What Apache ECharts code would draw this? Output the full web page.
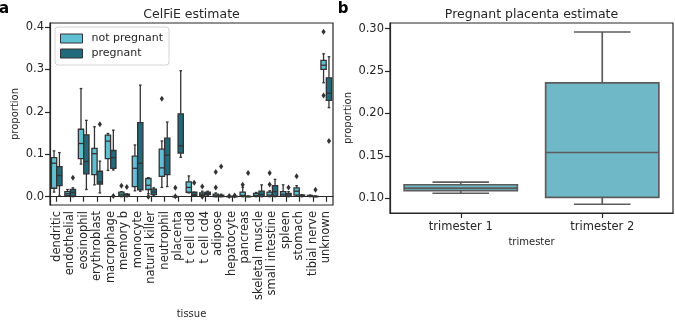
<!DOCTYPE html>
<html>
<head>
<meta charset="utf-8">
<script src="https://cdn.jsdelivr.net/npm/echarts@6/dist/echarts.min.js"></script>
<style>
  html, body { margin: 0; padding: 0; background: #fff; }
  #chart { width: 675px; height: 324px; }
</style>
</head>
<body>
<div id="chart"></div>
<script>
// ---- Panel a: CelFiE cell-type proportions, by pregnancy status ----
const tissues = [
  'dendritic', 'endothelial', 'eosinophil', 'erythroblast', 'macrophage',
  'memory b', 'monocyte', 'natural killer', 'neutrophil', 'placenta',
  't cell cd8', 't cell cd4', 'adipose', 'hepatocyte', 'pancreas',
  'skeletal muscle', 'small intestine', 'spleen', 'stomach', 'tibial nerve', 'unknown'
];

// five-number summaries: [whisker low, q1, median, q3, whisker high]
const notPregnantStats = [
  [0.011, 0.020, 0.079, 0.092, 0.108],
  [0.001, 0.003, 0.007, 0.012, 0.017],
  [0.077, 0.090, 0.1255, 0.159, 0.255],
  [0.028, 0.052, 0.1015, 0.114, 0.165],
  [0.062, 0.090, 0.131, 0.145, 0.149],
  [0.000, 0.002, 0.006, 0.011, 0.012],
  [0.014, 0.024, 0.067, 0.0955, 0.122],
  [0.007, 0.017, 0.027, 0.043, 0.045],
  [0.022, 0.048, 0.068, 0.112, 0.1315],
  [0.000, 0.000, 0.000, 0.0005, 0.0005],
  [0.009, 0.0105, 0.022, 0.035, 0.049],
  [0.001, 0.003, 0.006, 0.009, 0.013],
  [0.000, 0.0005, 0.002, 0.006, 0.009],
  [0.000, 0.000, 0.0003, 0.0006, 0.001],
  [0.000, 0.001, 0.003, 0.011, 0.022],
  [0.000, 0.001, 0.003, 0.008, 0.010],
  [0.000, 0.0015, 0.004, 0.011, 0.014],
  [0.001, 0.002, 0.006, 0.012, 0.028],
  [0.001, 0.004, 0.013, 0.021, 0.026],
  [0.000, 0.001, 0.002, 0.003, 0.004],
  [0.2686, 0.300, 0.310, 0.3215, 0.337]
];
const pregnantStats = [
  [0.002, 0.026, 0.050, 0.071, 0.104],
  [0.000, 0.002, 0.010, 0.017, 0.021],
  [0.017, 0.054, 0.083, 0.146, 0.180],
  [0.009, 0.030, 0.035, 0.060, 0.084],
  [0.063, 0.067, 0.092, 0.109, 0.157],
  [0.000, 0.001, 0.004, 0.006, 0.007],
  [0.013, 0.0165, 0.079, 0.1745, 0.263],
  [0.002, 0.005, 0.011, 0.018, 0.021],
  [0.024, 0.052, 0.098, 0.138, 0.176],
  [0.093, 0.103, 0.120, 0.1955, 0.297],
  [0.003, 0.003, 0.005, 0.0105, 0.0105],
  [0.003, 0.005, 0.008, 0.011, 0.013],
  [0.000, 0.0005, 0.002, 0.004, 0.006],
  [0.000, 0.000, 0.0005, 0.001, 0.002],
  [0.000, 0.000, 0.0005, 0.001, 0.002],
  [0.000, 0.001, 0.005, 0.013, 0.028],
  [0.000, 0.002, 0.012, 0.026, 0.041],
  [0.000, 0.001, 0.004, 0.008, 0.012],
  [0.000, 0.001, 0.002, 0.004, 0.005],
  [0.000, 0.000, 0.0005, 0.001, 0.002],
  [0.210, 0.2273, 0.244, 0.280, 0.330]
];

// fliers: [tissue index, proportion]
const notPregnantOutliers = [
  [5, 0.026], [7, 0.0], [8, 0.231], [9, 0.021], [9, 0.001],
  [11, 0.024], [11, 0.0], [12, 0.022], [12, 0.058], [13, 0.0015],
  [14, 0.028], [16, 0.029], [16, 0.056], [18, 0.048],
  [20, 0.389], [20, 0.2386]
];
const pregnantOutliers = [
  [1, 0.045], [3, 0.171], [4, 0.002], [5, 0.023], [10, 0.033],
  [12, 0.071], [13, 0.003], [14, 0.056], [17, 0.022], [19, 0.0165],
  [20, 0.1316]
];
const celfieTicks = [0, 0.1, 0.2, 0.3, 0.4];

// ---- Panel b: placenta proportion in pregnant samples, by trimester ----
const trimesters = ['trimester 1', 'trimester 2'];
const placentaStats = [
  [0.106, 0.109, 0.112, 0.116, 0.119],
  [0.093, 0.101, 0.154, 0.236, 0.296]
];
const placentaTicks = [0.10, 0.15, 0.20, 0.25, 0.30];

const FONT = 'DejaVu Sans';
const INK = '#262626';
const LIGHT = '#60bfd1';
const DARK = '#216a7b';
const PLACENTA_FILL = '#6eb8c7';
const EDGE_A = '#333333';
const EDGE_B = '#5c5c5c';

// Draws a seaborn-style box (box, median, whiskers, caps) for one category.
function boxRenderer(offset, widthFrac, fill, edge, lw) {
  return function (params, api) {
    const i = api.value(0);
    const band = api.size([1, 0])[0];
    const w = band * widthFrac;
    const cx = api.coord([i, 0])[0] + offset * band;
    const yv = k => api.coord([i, api.value(k)])[1];
    const yMin = yv(1), yQ1 = yv(2), yMed = yv(3), yQ3 = yv(4), yMax = yv(5);
    const cap = w / 4;
    const seg = (x1, y1, x2, y2) => ({
      type: 'line', shape: { x1, y1, x2, y2 },
      style: { stroke: edge, lineWidth: lw, fill: null }
    });
    return {
      type: 'group',
      children: [
        seg(cx, yQ1, cx, yMin),
        seg(cx, yQ3, cx, yMax),
        seg(cx - cap, yMin, cx + cap, yMin),
        seg(cx - cap, yMax, cx + cap, yMax),
        {
          type: 'rect',
          shape: { x: cx - w / 2, y: yQ3, width: w, height: Math.max(yQ1 - yQ3, 0.01) },
          style: { fill: fill, stroke: edge, lineWidth: lw }
        },
        seg(cx - w / 2, yMed, cx + w / 2, yMed)
      ]
    };
  };
}

// Diamond flier marker, shifted to its hue slot within the category band.
function flierRenderer(offset, color) {
  return function (params, api) {
    const i = api.value(0);
    const band = api.size([1, 0])[0];
    const p = api.coord([i, api.value(1)]);
    const cx = p[0] + offset * band, cy = p[1];
    return {
      type: 'polygon',
      shape: { points: [[cx, cy - 3], [cx + 2.1, cy], [cx, cy + 3], [cx - 2.1, cy]] },
      style: { fill: color, stroke: null }
    };
  };
}

const statRows = stats => stats.map((s, i) => [i].concat(s));

const chart = echarts.init(document.getElementById('chart'), null, { renderer: 'canvas' });

const axisText = { fontFamily: FONT, fontSize: 11.5, color: INK };
const nameText = { fontFamily: FONT, fontSize: 10, color: INK };

chart.setOption({
  animation: false,
  backgroundColor: '#fff',
  textStyle: { fontFamily: FONT },
  grid: [
    { left: 50, top: 23, width: 283, height: 189, show: true, borderColor: INK, borderWidth: 1.2, backgroundColor: 'transparent' },
    { left: 390, top: 23, width: 283, height: 190, show: true, borderColor: INK, borderWidth: 1.2, backgroundColor: 'transparent' }
  ],
  legend: {
    left: 55, top: 27, orient: 'vertical',
    itemWidth: 22, itemHeight: 9, itemGap: 4,
    padding: [6, 6, 6, 5],
    borderColor: '#d4d4d4', borderWidth: 1, borderRadius: 3,
    backgroundColor: 'rgba(255,255,255,0.85)',
    textStyle: { fontFamily: FONT, fontSize: 11, color: INK, padding: [0, 0, 0, 4] },
    data: [
      { name: 'not pregnant', icon: 'rect', itemStyle: { color: LIGHT, borderColor: EDGE_A, borderWidth: 1 } },
      { name: 'pregnant', icon: 'rect', itemStyle: { color: DARK, borderColor: EDGE_A, borderWidth: 1 } }
    ]
  },
  xAxis: [
    {
      gridIndex: 0, type: 'category', data: tissues,
      name: 'tissue', nameLocation: 'middle', nameGap: 104, nameTextStyle: nameText,
      axisLine: { show: true, lineStyle: { color: INK, width: 1.2 } },
      axisTick: { show: true, alignWithLabel: true, interval: 0, length: 5, lineStyle: { color: INK, width: 1.2 } },
      axisLabel: Object.assign({ rotate: 90, interval: 0, margin: 6 }, axisText),
      splitLine: { show: false }
    },
    {
      gridIndex: 1, type: 'category', data: trimesters,
      name: 'trimester', nameLocation: 'middle', nameGap: 22, nameTextStyle: nameText,
      axisLine: { show: true, lineStyle: { color: INK, width: 1.2 } },
      axisTick: { show: true, alignWithLabel: true, length: 5, lineStyle: { color: INK, width: 1.2 } },
      axisLabel: Object.assign({ margin: 8 }, axisText),
      splitLine: { show: false }
    }
  ],
  yAxis: [
    {
      gridIndex: 0, type: 'value', min: -0.0195, max: 0.4095,
      name: 'proportion', nameLocation: 'middle', nameRotate: 90, nameGap: 30, nameTextStyle: nameText,
      axisLine: { show: true, lineStyle: { color: INK, width: 1.2 } },
      axisTick: { show: true, length: 5, customValues: celfieTicks, lineStyle: { color: INK, width: 1.2 } },
      axisLabel: Object.assign({ margin: 6, customValues: celfieTicks, formatter: v => v.toFixed(1) }, axisText),
      splitLine: { show: false }
    },
    {
      gridIndex: 1, type: 'value', min: 0.0827, max: 0.3066,
      name: 'proportion', nameLocation: 'middle', nameRotate: 90, nameGap: 37, nameTextStyle: nameText,
      axisLine: { show: true, lineStyle: { color: INK, width: 1.2 } },
      axisTick: { show: true, length: 5, customValues: placentaTicks, lineStyle: { color: INK, width: 1.2 } },
      axisLabel: Object.assign({ margin: 6, customValues: placentaTicks, formatter: v => v.toFixed(2) }, axisText),
      splitLine: { show: false }
    }
  ],
  graphic: [
    { type: 'text', x: 191.5, y: 15, style: { text: 'CelFiE estimate', fontFamily: FONT, fontSize: 12.5, fill: INK, align: 'center', verticalAlign: 'middle', textAlign: 'center', textVerticalAlign: 'middle' } },
    { type: 'text', x: 531.5, y: 15, style: { text: 'Pregnant placenta estimate', fontFamily: FONT, fontSize: 12.5, fill: INK, align: 'center', verticalAlign: 'middle', textAlign: 'center', textVerticalAlign: 'middle' } },
    { type: 'text', x: 4, y: 9, style: { text: 'a', fontFamily: FONT, fontSize: 15, fontWeight: 'bold', fill: '#000', align: 'center', verticalAlign: 'middle', textAlign: 'center', textVerticalAlign: 'middle' } },
    { type: 'text', x: 343, y: 9, style: { text: 'b', fontFamily: FONT, fontSize: 15, fontWeight: 'bold', fill: '#000', align: 'center', verticalAlign: 'middle', textAlign: 'center', textVerticalAlign: 'middle' } }
  ],
  series: [
    {
      name: 'not pregnant', type: 'custom', xAxisIndex: 0, yAxisIndex: 0,
      itemStyle: { color: LIGHT },
      renderItem: boxRenderer(-0.2, 0.392, LIGHT, EDGE_A, 1.3),
      encode: { x: 0, y: [1, 2, 3, 4, 5] },
      data: statRows(notPregnantStats)
    },
    {
      name: 'pregnant', type: 'custom', xAxisIndex: 0, yAxisIndex: 0,
      itemStyle: { color: DARK },
      renderItem: boxRenderer(0.2, 0.392, DARK, EDGE_A, 1.3),
      encode: { x: 0, y: [1, 2, 3, 4, 5] },
      data: statRows(pregnantStats)
    },
    {
      name: 'not pregnant fliers', type: 'custom', xAxisIndex: 0, yAxisIndex: 0,
      renderItem: flierRenderer(-0.2, EDGE_A),
      encode: { x: 0, y: 1 },
      data: notPregnantOutliers
    },
    {
      name: 'pregnant fliers', type: 'custom', xAxisIndex: 0, yAxisIndex: 0,
      renderItem: flierRenderer(0.2, EDGE_A),
      encode: { x: 0, y: 1 },
      data: pregnantOutliers
    },
    {
      name: 'placenta', type: 'custom', xAxisIndex: 1, yAxisIndex: 1,
      renderItem: boxRenderer(0, 0.8, PLACENTA_FILL, EDGE_B, 1.7),
      encode: { x: 0, y: [1, 2, 3, 4, 5] },
      data: statRows(placentaStats)
    }
  ]
});
</script>
</body>
</html>
